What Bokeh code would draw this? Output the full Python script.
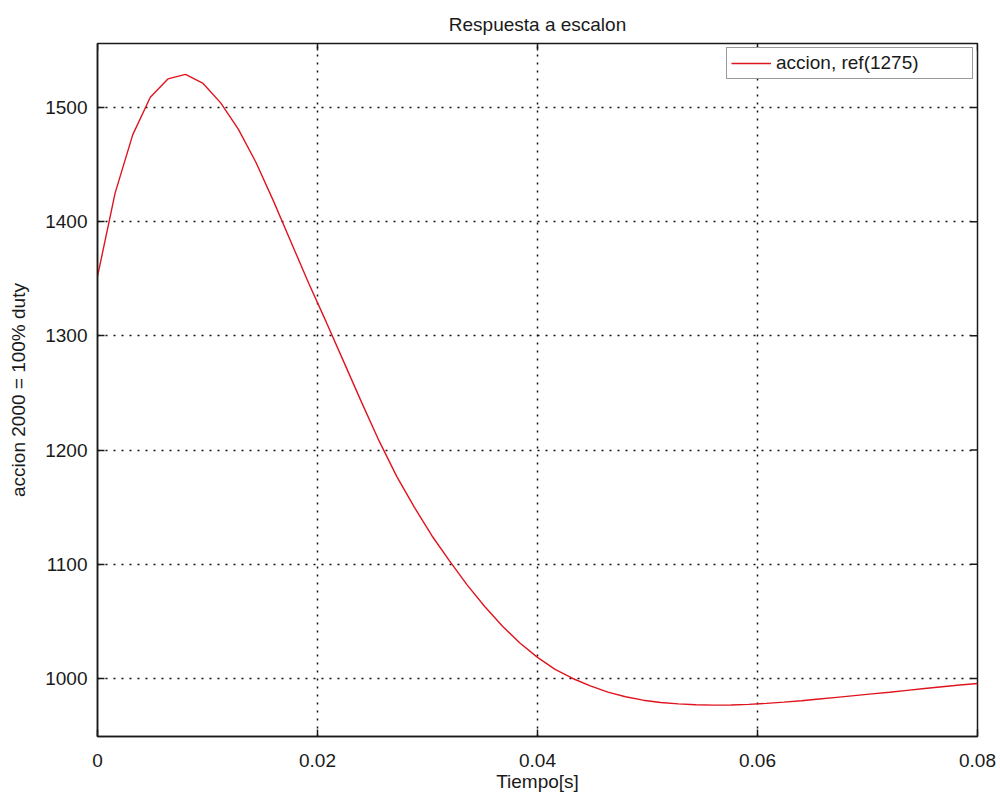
import math
from bokeh.plotting import figure
from bokeh.models import FixedTicker, Range1d, Legend, LegendItem
from bokeh.embed import file_html
from bokeh.resources import INLINE

# ---- data ----
tiempo = [0.0000, 0.0016, 0.0032, 0.0048, 0.0064, 0.0080, 0.0096, 0.0112, 0.0128, 0.0144,
          0.0160, 0.0176, 0.0192, 0.0208, 0.0224, 0.0240, 0.0256, 0.0272, 0.0288, 0.0304,
          0.0320, 0.0336, 0.0352, 0.0368, 0.0384, 0.0400, 0.0416, 0.0432, 0.0448, 0.0464,
          0.0480, 0.0496, 0.0512, 0.0528, 0.0544, 0.0560, 0.0576, 0.0592, 0.0608, 0.0624,
          0.0640, 0.0656, 0.0672, 0.0688, 0.0704, 0.0720, 0.0736, 0.0752, 0.0768, 0.0784,
          0.0800]
accion = [1352, 1425, 1476, 1509, 1525, 1529, 1521, 1504, 1481, 1452,
          1418, 1382, 1346, 1312, 1277, 1242, 1208, 1177, 1150, 1125,
          1103, 1082, 1063, 1046, 1031, 1018.5, 1008, 1000, 993.5, 988,
          984, 981, 979, 977.8, 977, 976.7, 976.8, 977.3, 978.2, 979.3,
          980.5, 982, 983.5, 985, 986.5, 988, 989.6, 991.2, 992.8, 994.3,
          995.6]
x_ticks = [0, 0.02, 0.04, 0.06, 0.08]
x_tick_labels = ["0", "0.02", "0.04", "0.06", "0.08"]
y_ticks = [1000, 1100, 1200, 1300, 1400, 1500]
y_tick_labels = ["1000", "1100", "1200", "1300", "1400", "1500"]
x_limits = [0, 0.08]
y_limits = [949.2, 1556.0]
serie_nombre = "accion, ref(1275)"
titulo = "Respuesta a escalon"
x_label = "Tiempo[s]"
y_label = "accion 2000 = 100% duty"

FONT = "Liberation Sans"
FS = "19px"
INK = "#1a1a1a"

p = figure(width=1000, height=796, output_backend="svg", toolbar_location=None,
           x_range=Range1d(*x_limits), y_range=Range1d(*y_limits),
           min_border_left=97, min_border_right=23, min_border_top=43, min_border_bottom=60,
           x_axis_label=x_label, y_axis_label=y_label)

p.title.text = titulo
p.title.text_font = FONT
p.title.text_font_size = FS
p.title.text_font_style = "normal"
p.title.align = "center"
p.title.text_color = INK
p.title.standoff = 17

p.outline_line_color = INK
p.outline_line_width = 1.5
p.outline_line_alpha = 1
p.background_fill_color = "white"
p.border_fill_color = "white"

def style_axis(ax):
    ax.axis_line_color = INK
    ax.axis_line_width = 1.5
    ax.major_tick_in = 7
    ax.major_tick_out = 0
    ax.major_tick_line_color = INK
    ax.major_tick_line_width = 1.5
    ax.minor_tick_line_color = None
    ax.major_label_text_font = FONT
    ax.major_label_text_font_size = FS
    ax.major_label_text_color = INK
    ax.axis_label_text_font = FONT
    ax.axis_label_text_font_size = FS
    ax.axis_label_text_font_style = "normal"
    ax.axis_label_text_color = INK

xb = p.xaxis[0]
yl = p.yaxis[0]
xb.ticker = FixedTicker(ticks=x_ticks)
yl.ticker = FixedTicker(ticks=y_ticks)
xb.major_label_overrides = {t: s for t, s in zip(x_ticks, x_tick_labels)}
yl.major_label_overrides = {t: s for t, s in zip(y_ticks, y_tick_labels)}
style_axis(xb)
style_axis(yl)
xb.major_label_standoff = 17
xb.axis_label_standoff = 1
yl.major_label_standoff = 10
yl.axis_label_standoff = 13

# inward tick marks on the top and right sides of the box
p.ray(x=x_ticks, y=[y_limits[1]] * len(x_ticks), length=7, length_units="screen",
      angle=-math.pi / 2, line_color=INK, line_width=1.5)
p.ray(x=[x_limits[1]] * len(y_ticks), y=y_ticks, length=7, length_units="screen",
      angle=math.pi, line_color=INK, line_width=1.5)

p.xgrid[0].ticker = FixedTicker(ticks=x_ticks)
p.ygrid[0].ticker = FixedTicker(ticks=y_ticks)
for g in (p.xgrid[0], p.ygrid[0]):
    g.grid_line_color = "#111111"
    g.grid_line_width = 1.5
    g.grid_line_dash = "2 6"

r = p.line(tiempo, accion, line_color="#e0141e", line_width=1.4)

legend = Legend(items=[LegendItem(label=serie_nombre, renderers=[r])],
                location="top_right", margin=4, padding=4, spacing=0,
                glyph_width=40, glyph_height=20, label_height=20,
                label_width=192, label_standoff=5,
                label_text_font=FONT, label_text_font_size=FS, label_text_color=INK,
                border_line_color="#333333", border_line_width=1,
                background_fill_color="white", background_fill_alpha=1)
p.add_layout(legend, "center")

open("out.html", "w").write(file_html(p, INLINE))
